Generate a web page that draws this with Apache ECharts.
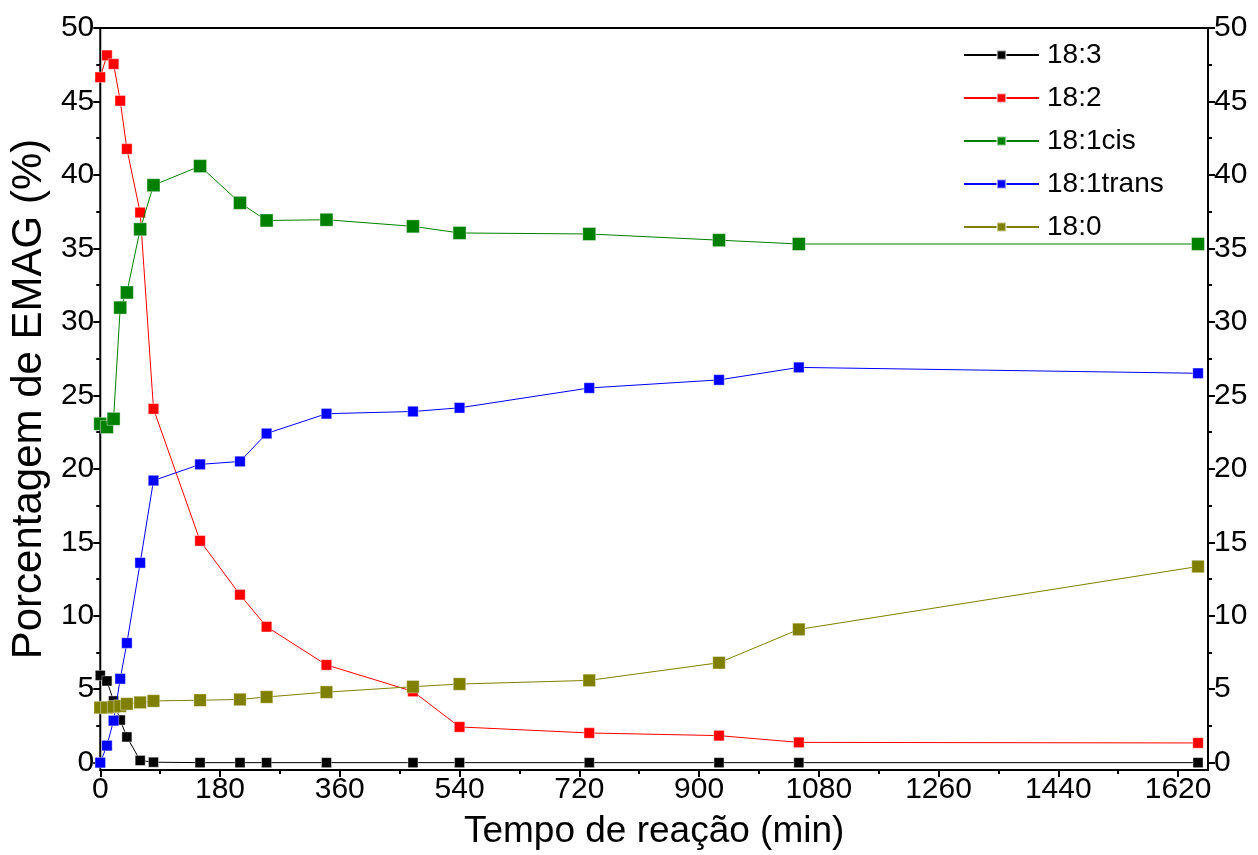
<!DOCTYPE html>
<html>
<head>
<meta charset="utf-8">
<script src="https://cdn.jsdelivr.net/npm/echarts@6/dist/echarts.min.js"></script>
<style>
  html, body { margin: 0; padding: 0; background: #fff; }
  #chart { width: 1258px; height: 855px; }
</style>
</head>
<body>
<div id="chart"></div>
<script>
// Reaction time (min)
const tempos = [0, 10, 20, 30, 40, 60, 80, 150, 210, 250, 340, 470, 540, 735, 930, 1050, 1650];

// FAME composition (%) for each fatty acid
const c18_3 = [5.94, 5.56, 4.2, 2.9, 1.75, 0.15, 0.03, 0, 0, 0, 0, 0, 0, 0, 0, 0, 0];
const c18_2 = [46.65, 48.14, 47.55, 45.05, 41.77, 37.44, 24.08, 15.1, 11.43, 9.25, 6.65, 4.85, 2.43, 2.02, 1.84, 1.38, 1.34];
const c18_1cis = [23.06, 22.84, 23.4, 30.97, 32.0, 36.3, 39.3, 40.6, 38.1, 36.9, 36.95, 36.5, 36.05, 35.98, 35.56, 35.3, 35.3];
const c18_1trans = [0, 1.16, 2.86, 5.71, 8.14, 13.6, 19.2, 20.3, 20.5, 22.4, 23.75, 23.9, 24.15, 25.5, 26.05, 26.9, 26.5];
const c18_0 = [3.75, 3.75, 3.8, 3.85, 4.0, 4.1, 4.2, 4.25, 4.3, 4.47, 4.8, 5.17, 5.35, 5.6, 6.8, 9.07, 13.35];

const seriesNames = ['18:3', '18:2', '18:1cis', '18:1trans', '18:0'];

// Axis ticks
const xMajor = [0, 180, 360, 540, 720, 900, 1080, 1260, 1440, 1620];
const xMinor = [90, 270, 450, 630, 810, 990, 1170, 1350, 1530];
const yMajor = [0, 5, 10, 15, 20, 25, 30, 35, 40, 45, 50];
const yMinor = [2.5, 7.5, 12.5, 17.5, 22.5, 27.5, 32.5, 37.5, 42.5, 47.5];

const FONT = "'Liberation Sans', Arial, sans-serif";
const colors = ['#000000', '#ff0000', '#008000', '#0000ff', '#808000'];
const sizes = [10, 10.5, 13, 10.5, 12.5];
const values = [c18_3, c18_2, c18_1cis, c18_1trans, c18_0];

const X_MIN = 0, X_MAX = 1665;
const Y_MIN = -0.5, Y_MAX = 50;

const plainNumber = v => String(v);

function xAxisDef(ticks, len, labels) {
  return {
    type: 'value', position: 'bottom', min: X_MIN, max: X_MAX,
    axisLine: { show: false, onZero: false },
    axisTick: { show: true, customValues: ticks, length: len, inside: false,
                lineStyle: { color: '#000', width: 2 } },
    axisLabel: labels
      ? { show: true, customValues: ticks, formatter: plainNumber,
          fontSize: 30, color: '#000', fontFamily: FONT, margin: 5 }
      : { show: false },
    splitLine: { show: false }
  };
}

function yAxisDef(pos, ticks, len, labels) {
  return {
    type: 'value', position: pos, min: Y_MIN, max: Y_MAX,
    axisLine: { show: false, onZero: false },
    axisTick: { show: true, customValues: ticks, length: len, inside: false,
                lineStyle: { color: '#000', width: 2 } },
    axisLabel: labels
      ? { show: true, customValues: ticks, formatter: plainNumber,
          fontSize: 30, color: '#000', fontFamily: FONT, margin: 6 }
      : { show: false },
    splitLine: { show: false }
  };
}

const xAxes = [xAxisDef(xMajor, 7, true), xAxisDef(xMinor, 4, false)];
Object.assign(xAxes[0], {
  name: 'Tempo de reação (min)', nameLocation: 'middle', nameGap: 43,
  nameTextStyle: { fontSize: 37, color: '#000', fontFamily: FONT }
});

const yAxes = [
  yAxisDef('left', yMajor, 7, true),
  yAxisDef('left', yMinor, 4, false),
  yAxisDef('right', yMajor, 7, true),
  yAxisDef('right', yMinor, 4, false)
];
Object.assign(yAxes[0], {
  name: 'Porcentagem de EMAG (%)', nameLocation: 'middle', nameGap: 50,
  nameTextStyle: { fontSize: 42, color: '#000', fontFamily: FONT }
});

const series = seriesNames.map((name, i) => ({
  name, type: 'line', xAxisIndex: 0, yAxisIndex: 0,
  data: tempos.map((t, k) => [t, values[i][k]]),
  symbol: 'rect', symbolSize: sizes[i], showAllSymbol: true,
  lineStyle: { color: colors[i], width: 1 },
  itemStyle: { color: colors[i], borderColor: 'rgba(255,255,255,0.5)', borderWidth: 0.8 },
  emphasis: { disabled: true },
  animation: false, z: 2 + i
}));

const chart = echarts.init(document.getElementById('chart'), null, { renderer: 'canvas' });
chart.setOption({
  backgroundColor: '#fff',
  animation: false,
  grid: { left: 99, right: 50, top: 28, bottom: 85, show: true,
          borderColor: '#000', borderWidth: 2, backgroundColor: 'transparent' },
  legend: {
    orient: 'vertical', left: 958, top: 36,
    itemWidth: 75, itemHeight: 11, itemGap: 15,
    textStyle: { fontSize: 28, color: '#000', fontFamily: FONT, padding: [0, 0, 0, 3] },
    data: seriesNames
  },
  xAxis: xAxes,
  yAxis: yAxes,
  series
});
</script>
</body>
</html>
